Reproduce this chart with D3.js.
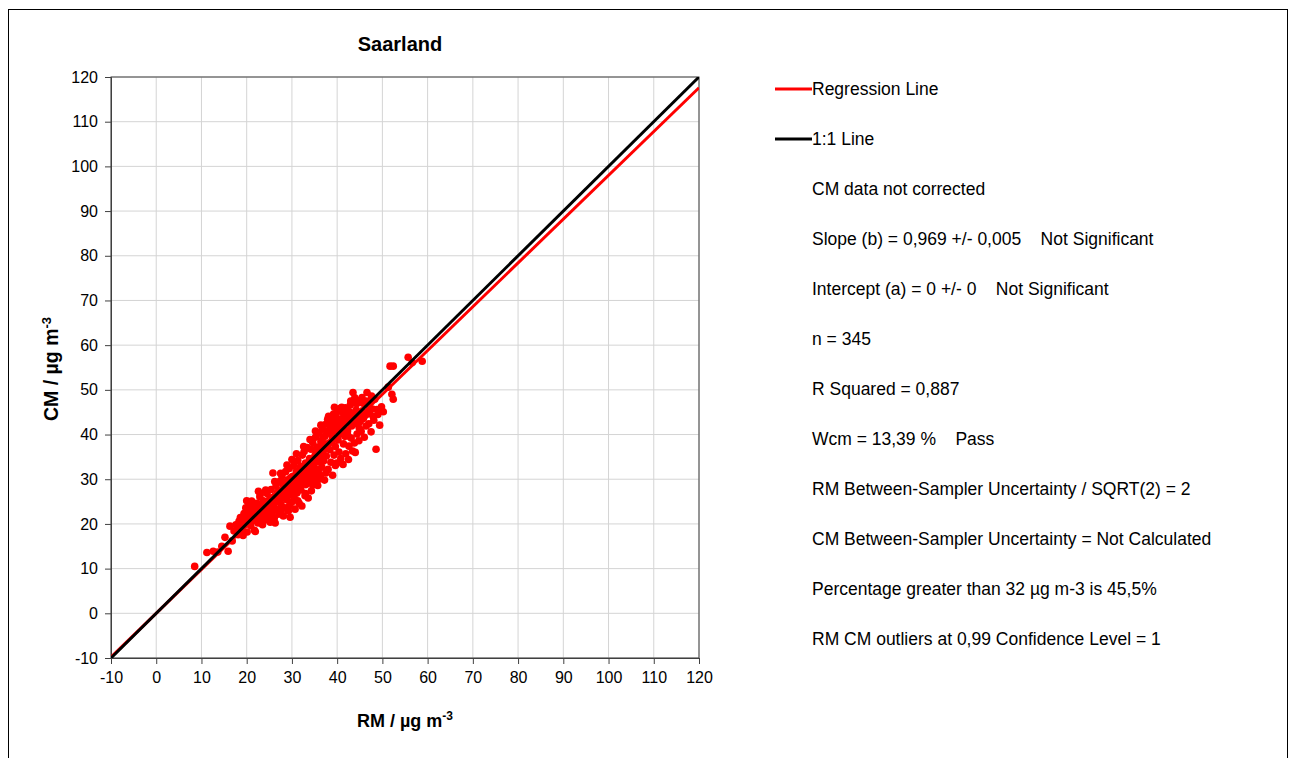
<!DOCTYPE html>
<html>
<head>
<meta charset="utf-8">
<script src="https://cdn.jsdelivr.net/npm/d3@7"></script>
<style>
  html, body { margin: 0; padding: 0; background: #fff; }
  svg text { font-family: "Liberation Sans", Arial, sans-serif; }
</style>
</head>
<body>
<svg id="chart" width="1296" height="758"></svg>
<script>
// ---- data ----
const chartTitle = "Saarland";
const axisTicks = [-10, 0, 10, 20, 30, 40, 50, 60, 70, 80, 90, 100, 110, 120];
// regression line as drawn in the chart (end points, RM -> CM)
const regressionLine = [[-10, -9.8], [120, 117.6]];
const identityLine = [[-10, -10], [120, 120]];
const legendLines = [
  { label: "Regression Line", color: "red" },
  { label: "1:1 Line", color: "black" }
];
const statsLines = [
  "CM data not corrected",
  "Slope (b) = 0,969 +/- 0,005    Not Significant",
  "Intercept (a) = 0 +/- 0    Not Significant",
  "n = 345",
  "R Squared = 0,887",
  "Wcm = 13,39 %    Pass",
  "RM Between-Sampler Uncertainty / SQRT(2) = 2",
  "CM Between-Sampler Uncertainty = Not Calculated",
  "Percentage greater than 32 µg m-3 is 45,5%",
  "RM CM outliers at 0,99 Confidence Level = 1"
];
// [RM, CM] pairs
const samples = [
[8.5,10.5],[11.2,13.6],[12.6,13.9],[13.6,13.7],[14.5,15],[15.9,13.9],[15.2,17],[16.3,19.5],[16.8,16.2],[17.2,18.4],[17.6,19.8],[18.1,17.6],[18.3,20.6],[18.6,21.4],[18.9,18.7],[19.2,17.4],[19.4,22.3],[19.6,19.9],[19.8,23.6],[20.1,18.2],[20.3,21.1],[20.5,24.2],[20.7,22.6],[20.9,19.6],[21.1,25.1],[21.3,20.8],[21.5,23.4],[21.7,18.6],[21.9,18.3],[22.1,21.9],[22.3,24.6],[22.5,20.2],[22.7,22.7],[22.9,26.1],[23.1,21.3],[23.3,23.8],[23.5,19.8],[23.7,25.2],[23.9,22.1],[24.1,20.9],[24.3,24.4],[24.5,26.8],[24.7,21.7],[24.9,23.1],[25.2,20.4],[25.1,25.6],[25.4,27.7],[25.6,22.4],[25.8,31.4],[25.9,24.1],[26.1,21.3],[26.3,26.3],[26.5,28.6],[26.7,23.2],[26.9,25.1],[27.1,22.2],[27.2,27.4],[27.4,29.6],[27.6,24.3],[27.8,30.8],[27.9,26.2],[28.1,21.8],[28.3,28.1],[28.4,23.6],[28.6,31.7],[28.8,25.4],[28.9,27.3],[29.1,29.9],[29.2,22.9],[29.4,32.4],[29.5,26.4],[29.6,21.5],[29.8,28.7],[29.9,24.8],[30.1,30.6],[30.2,27.2],[30.4,33.1],[30.5,25.7],[30.7,23.3],[30.8,29.3],[31.0,31.8],[31.1,26.9],[31.3,34.2],[31.4,28.4],[31.6,24.6],[31.7,30.2],[31.9,32.9],[32.0,27.6],[32.2,24.0],[32.3,35.4],[32.4,29.1],[32.6,31.2],[32.7,36.2],[32.9,26.3],[33.0,33.6],[33.1,28.8],[33.3,30.7],[33.4,37.1],[33.6,25.8],[33.7,32.3],[33.9,34.6],[34.0,29.4],[34.2,36.7],[34.3,27.4],[34.5,31.5],[34.6,38.2],[34.8,33.2],[34.9,29.9],[35.1,35.3],[35.2,39.4],[35.4,31.1],[35.5,37.2],[35.7,28.6],[35.8,33.9],[36.0,40.3],[36.1,35.8],[36.3,30.8],[36.4,38.4],[36.6,32.7],[36.7,41.2],[36.9,36.3],[37.0,34.1],[37.2,29.8],[37.3,39.6],[37.5,42.3],[37.6,35.2],[37.8,37.6],[38.0,32.2],[38.1,44.1],[38.3,40.4],[38.4,36.6],[38.6,33.8],[38.7,42.6],[38.9,38.7],[39.0,30.9],[39.2,44.6],[39.3,35.4],[39.5,40.9],[39.6,37.3],[39.8,42.2],[39.9,33.6],[40.1,45.3],[40.2,38.8],[40.4,36.1],[40.5,43.4],[40.7,40.2],[40.8,34.6],[41.0,46.1],[41.1,41.8],[41.3,33.3],[41.4,37.9],[41.6,44.2],[41.7,39.6],[41.9,35.7],[42.0,42.7],[42.2,45.6],[42.3,40.8],[42.5,34.4],[42.6,37.4],[42.8,43.8],[42.9,46.6],[43.1,39.2],[43.2,41.9],[43.4,36.3],[43.5,49.4],[43.7,44.8],[43.8,38.1],[44.0,36.0],[44.1,42.4],[44.3,46.9],[44.4,40.1],[44.6,44.3],[44.8,38.6],[45.0,47.6],[45.1,42.9],[45.3,40.7],[45.5,48.3],[45.6,45.3],[45.8,43.6],[46.0,39.4],[46.2,46.8],[46.4,41.9],[46.6,49.4],[46.8,44.6],[47.0,42.4],[47.3,47.3],[47.5,40.6],[47.8,45.7],[48.1,43.2],[48.3,47.9],[48.6,36.7],[48.8,45.6],[49.0,44.5],[49.4,42.1],[49.8,46.2],[50.2,45.1],[51.3,50.6],[51.7,55.3],[52.1,49.0],[52.4,55.3],[52.4,47.9],[55.7,57.3],[56.6,56.1],[58.8,56.4],
[18.4,19.2],[18.8,20.1],[19.1,21.0],[19.5,20.4],[19.9,21.7],[20.2,22.9],[20.6,20.0],[21.0,22.4],[21.4,21.5],[21.8,23.7],[22.0,20.7],[22.4,22.2],[22.8,24.1],[23.2,22.8],[23.6,21.2],[24.0,23.5],[24.4,22.6],[24.8,25.0],[25.0,23.3],[25.3,24.6],[25.7,25.9],[26.0,23.9],[26.4,25.2],[26.8,27.1],[27.0,25.8],[27.3,24.9],[27.7,26.7],[28.0,28.9],[28.2,26.1],[28.5,27.8],[28.7,29.4],[29.0,26.9],[29.3,28.3],[29.7,30.3],[30.0,28.1],[30.3,29.7],[30.6,27.9],[30.9,31.1],[31.2,29.6],[31.5,30.9],[31.8,28.2],[32.1,31.7],[32.5,30.3],[32.8,32.6],[33.2,31.0],[33.5,29.2],[33.8,31.9],[34.1,33.7],[34.4,30.6],[34.7,34.4],[35.0,32.5],[35.3,36.4],[35.6,34.7],[35.9,32.1],[36.2,37.1],[36.5,35.0],[36.8,39.1],[37.1,37.8],[37.4,36.9],[37.7,40.7],[38.2,38.1],[38.5,41.5],[38.8,39.9],[39.1,43.2],[39.4,39.1],[39.7,44.2],[40.0,41.0],[40.3,42.5],[40.6,45.8],[40.9,43.1],[41.2,44.9],[41.5,40.5],[41.8,46.0],[42.1,43.9],[42.4,39.7],[42.7,45.1],[43.0,47.5],[43.3,44.6],[43.6,42.8],[43.9,48.2],[44.2,45.5],[44.5,43.5],[44.9,41.4],[45.2,44.8],[45.7,47.0],[46.1,44.2],[46.5,47.5],[47.1,45.0],[47.6,48.6],[48.0,44.0],[26.2,29.5],[27.5,31.3],[28.9,33.2],[30.0,34.4],[31.0,35.7],[24.2,27.6],[23.0,26.7],[21.2,24.3],[20.0,25.2],[22.6,27.3],[32.6,37.3],[34.0,38.9],[35.2,40.8],[36.4,42.1],[37.9,43.4],[39.4,46.1],[29.4,24.0],[31.3,25.2],[33.0,26.8],[34.6,28.7],[36.0,30.0],[37.5,31.4],[39.6,33.1],[27.6,22.8],[26.3,20.2]
];

// ---- layout ----
const svg = d3.select("#chart");
const plot = { left: 111, right: 699, top: 77, bottom: 658 };
const x = d3.scaleLinear().domain([-10, 120]).range([plot.left, plot.right]);
const y = d3.scaleLinear().domain([-10, 120]).range([plot.bottom, plot.top]);

// outer frame
svg.append("rect").attr("x", 8.5).attr("y", 9.5).attr("width", 1279).attr("height", 760)
  .attr("fill", "none").attr("stroke", "#000").attr("stroke-width", 1);

// grid
const grid = svg.append("g");
grid.selectAll("line.v").data(axisTicks).join("line")
  .attr("x1", d => x(d)).attr("x2", d => x(d))
  .attr("y1", plot.top).attr("y2", plot.bottom)
  .attr("stroke", "#d4d4d4").attr("stroke-width", 1);
grid.selectAll("line.h").data(axisTicks).join("line")
  .attr("y1", d => y(d)).attr("y2", d => y(d))
  .attr("x1", plot.left).attr("x2", plot.right)
  .attr("stroke", "#d4d4d4").attr("stroke-width", 1);

// axes
const fmt = d => String(d);
const xAxis = d3.axisBottom(x).tickValues(axisTicks).tickSize(6).tickPadding(8).tickFormat(fmt);
const yAxis = d3.axisLeft(y).tickValues(axisTicks).tickSize(6).tickPadding(7).tickFormat(fmt);
const gx = svg.append("g").attr("transform", `translate(0,${plot.bottom})`).call(xAxis);
const gy = svg.append("g").attr("transform", `translate(${plot.left},0)`).call(yAxis);
[gx, gy].forEach(g => {
  g.select(".domain").attr("stroke", "#404040");
  g.selectAll(".tick line").attr("stroke", "#404040");
  g.selectAll(".tick text").attr("font-size", 16).attr("fill", "#000")
    .attr("font-family", "Liberation Sans, Arial, sans-serif");
});
svg.append("rect").attr("x", plot.left).attr("y", plot.top)
  .attr("width", plot.right - plot.left).attr("height", plot.bottom - plot.top)
  .attr("fill", "none").attr("stroke", "#404040").attr("stroke-width", 1);

// clip
svg.append("clipPath").attr("id", "clip").append("rect")
  .attr("x", plot.left).attr("y", plot.top)
  .attr("width", plot.right - plot.left).attr("height", plot.bottom - plot.top);
const area = svg.append("g").attr("clip-path", "url(#clip)");

// points
area.selectAll("circle").data(samples).join("circle")
  .attr("cx", d => x(d[0])).attr("cy", d => y(d[1])).attr("r", 3.8)
  .attr("fill", "#ff0000");

// regression and 1:1 lines
const lineGen = d3.line().x(d => x(d[0])).y(d => y(d[1]));
area.append("path").attr("d", lineGen(regressionLine))
  .attr("stroke", "#ff0000").attr("stroke-width", 3).attr("fill", "none");
area.append("path").attr("d", lineGen(identityLine))
  .attr("stroke", "#000").attr("stroke-width", 3).attr("fill", "none");

// title
svg.append("text").attr("x", 400).attr("y", 51).attr("text-anchor", "middle")
  .attr("font-size", 20).attr("font-weight", "bold").text(chartTitle);

// x axis title
const xt = svg.append("text").attr("x", 405).attr("y", 727).attr("text-anchor", "middle")
  .attr("font-size", 18).attr("font-weight", "bold");
xt.append("tspan").text("RM / µg m");
xt.append("tspan").attr("dy", -7).attr("font-size", 12).text("-3");

// y axis title
const yt = svg.append("text").attr("transform", `translate(58,369) rotate(-90)`)
  .attr("text-anchor", "middle").attr("font-size", 19.5).attr("font-weight", "bold");
yt.append("tspan").text("CM / µg m");
yt.append("tspan").attr("dy", -7.5).attr("font-size", 13).text("-3");

// legend
const lg = svg.append("g");
legendLines.forEach((l, i) => {
  const yy = 89 + i * 50;
  lg.append("line").attr("x1", 775).attr("x2", 812).attr("y1", yy).attr("y2", yy)
    .attr("stroke", l.color).attr("stroke-width", 3);
  lg.append("text").attr("x", 812).attr("y", yy + 6).attr("font-size", 17.5).text(l.label);
});
statsLines.forEach((s, i) => {
  lg.append("text").attr("x", 812).attr("y", 195 + i * 50).attr("font-size", 17.5)
    .style("white-space", "pre").text(s);
});
</script>
</body>
</html>
